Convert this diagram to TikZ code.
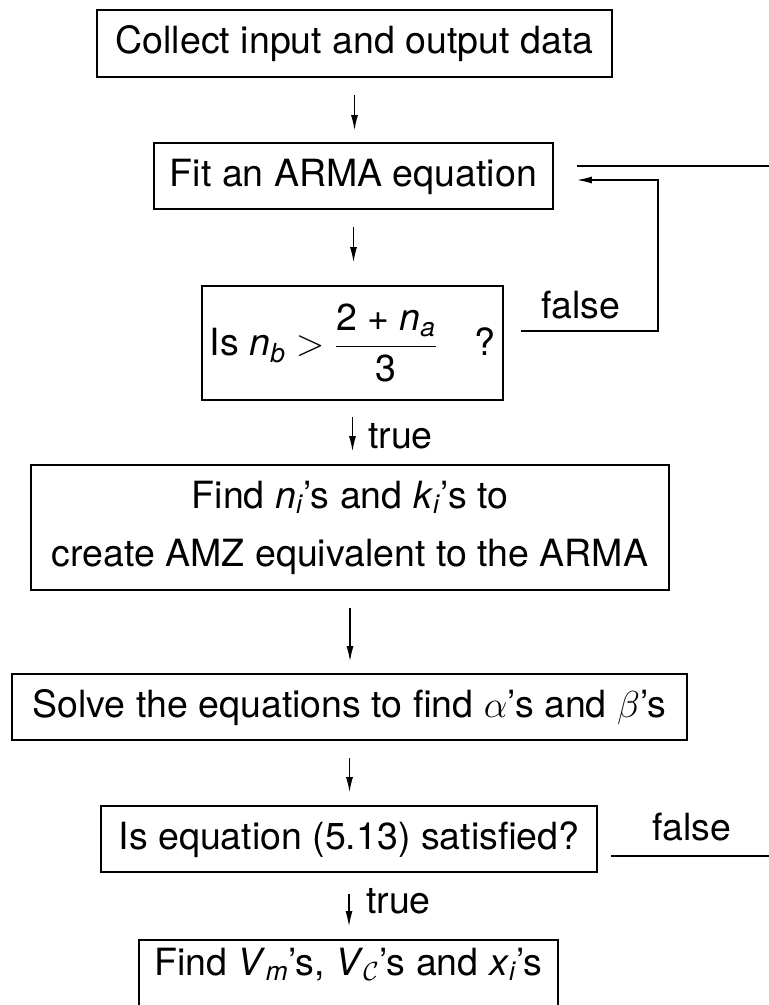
\RequirePackage{fix-cm}
\documentclass[tikz,border=0pt]{standalone}
\usepackage{fontspec}
\setmainfont{TeX Gyre Heros}
\usetikzlibrary{arrows.meta}
\newcommand{\vsb}[2]{\textit{#1}\textsubscript{\textit{#2}}}
\tikzset{
  box/.style={draw, line width=1.6pt, inner sep=0pt, font=\fontsize{37.5}{58}\selectfont},
  one/.style={text height=27pt, text depth=7pt},
  lbl/.style={inner sep=0pt, font=\fontsize{37.5}{45}\selectfont},
  arr/.style={line width=1.3pt, -{Latex[length=15pt,width=7pt]}},
  ln/.style={line width=1.5pt}
}
\begin{document}
\begin{tikzpicture}[x=1pt,y=-1pt]
\fill[white] (0,0) rectangle (769,1005);
\useasboundingbox (0,0) rectangle (769,1005);
\node[box,one,minimum width=515pt,minimum height=67pt] (col) at (354.5,43.5) {Collect input and output data};
\node[box,one,minimum width=399pt,minimum height=66pt] (fit) at (353.5,176) {Fit an ARMA equation};
\node[box,minimum width=301pt,minimum height=114pt] (dec1) at (352.5,343)
  {Is \vsb{n}{b} $>$ $\displaystyle\frac{\hbox{2 + \vsb{n}{a}}}{\hbox{3}}$\quad ?};
\node[box,align=center,minimum width=638pt,minimum height=125pt] (amz) at (350,527.5)
  {Find \vsb{n}{i}'s and \vsb{k}{i}'s to\\create AMZ equivalent to the ARMA};
\node[box,one,minimum width=675pt,minimum height=66pt] (sol) at (349.5,707)
  {Solve the equations to find $\alpha$'s and $\beta$'s};
\node[box,one,minimum width=496pt,minimum height=66pt] (chk) at (349,839)
  {Is equation (5.13) satisfied?};
\node[box,text height=27pt,text depth=27pt,minimum width=419pt,minimum height=70pt] (fin) at (348.5,975)
  {Find \vsb{V}{m}'s, \textit{V}\textsubscript{$\mathcal{C}$}'s and \vsb{x}{i}'s};
% arrows
\draw[arr,shorten <=17pt,shorten >=12pt] (col.south) -- (col.south |- fit.north);
\draw[arr,shorten <=17pt,shorten >=23pt] (fit.south) -- (fit.south |- dec1.north);
\draw[arr,shorten <=16pt,shorten >=13pt] (dec1.south) -- (dec1.south |- amz.north);
\draw[arr,shorten <=17pt,shorten >=12pt] (amz.south) -- (amz.south |- sol.north);
\draw[arr,shorten <=17pt,shorten >=13pt] (sol.south) -- (sol.south |- chk.north);
\draw[arr,shorten <=21pt,shorten >=13pt] (chk.south) -- (chk.south |- fin.north);
% labels
\node[lbl,anchor=base west] (t1) at (368,448) {true};
\node[lbl,anchor=base west] (t2) at (366,913) {true};
\node[lbl,anchor=base] (f1) at (581,318) {false};
\node[lbl,anchor=base] (f2) at (692,840) {false};
% loops
\draw[arr,line width=1.5pt] ([xshift=17pt,yshift=12pt]dec1.east) -- ++(137,0) |- ([xshift=23pt,yshift=-4pt]fit.east);
\draw[ln] ([xshift=23pt,yshift=10pt]fit.east) -- ++(220,0);
\draw[ln] ([xshift=13pt,yshift=-17pt]chk.east) -- ++(200,0);
\end{tikzpicture}
\end{document}
